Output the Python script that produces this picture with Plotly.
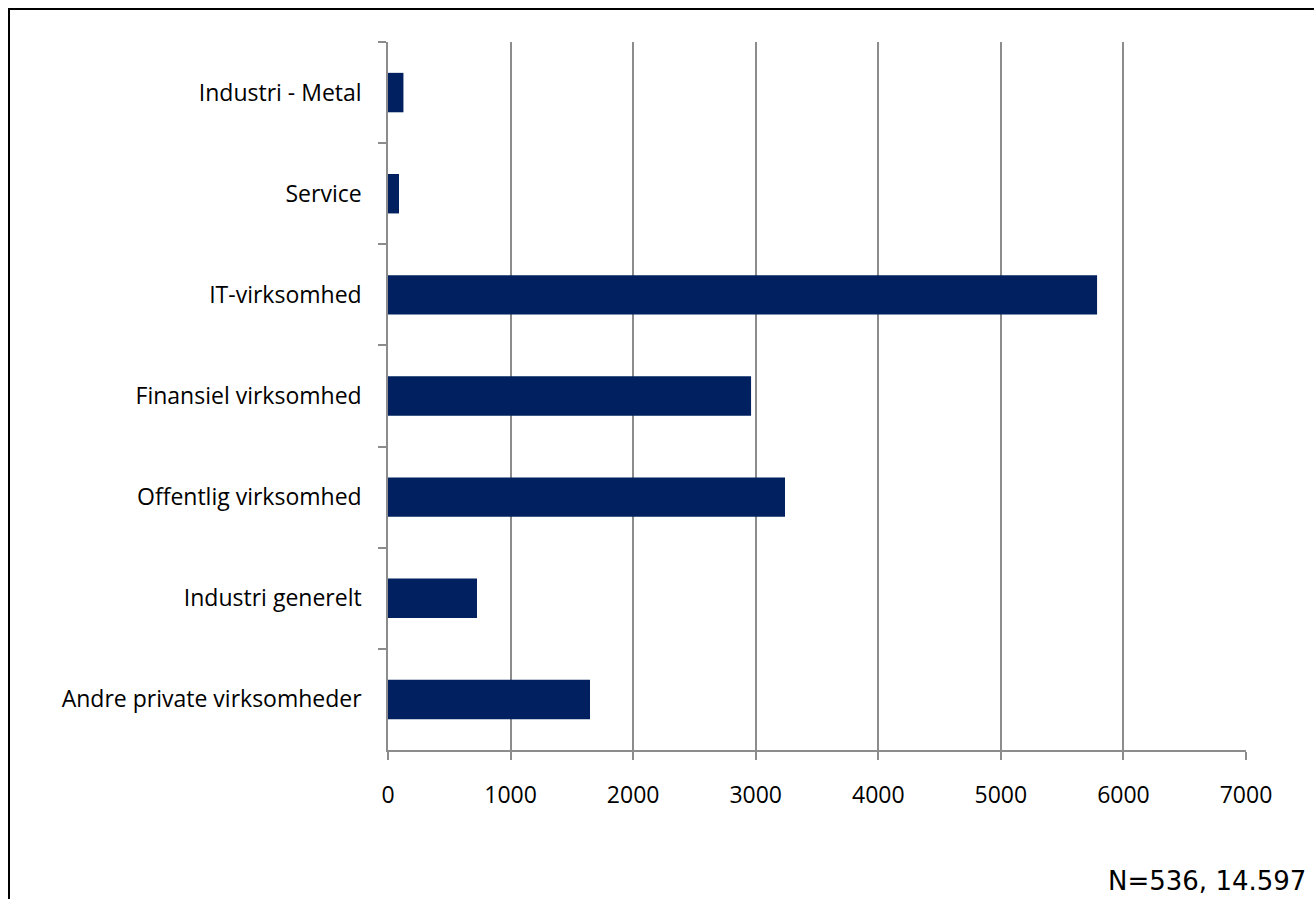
import plotly.graph_objects as go

# Sector breakdown, listed top to bottom as drawn
sectors = [
    "Industri - Metal",
    "Service",
    "IT-virksomhed",
    "Finansiel virksomhed",
    "Offentlig virksomhed",
    "Industri generelt",
    "Andre private virksomheder",
]
values = [126, 90, 5785, 2962, 3239, 726, 1648]
x_ticks = [0, 1000, 2000, 3000, 4000, 5000, 6000, 7000]
note = "N=536, 14.597"

W, H = 1314, 899
ml, mr, mt, mb = 388, 68, 42, 149
pw, ph = W - ml - mr, H - mt - mb

bar_color = "#002060"
grid_color = "#8c8c8c"

fig = go.Figure(
    go.Bar(
        x=values,
        y=sectors,
        orientation="h",
        marker=dict(color=bar_color, line=dict(width=0)),
        hoverinfo="x+y",
    )
)

fig.update_layout(
    width=W,
    height=H,
    margin=dict(l=ml, r=mr, t=mt, b=mb, pad=0),
    paper_bgcolor="white",
    plot_bgcolor="white",
    bargap=0.61,
    showlegend=False,
    font=dict(family="Open Sans, Noto Sans, sans-serif", color="#000000"),
)

fig.update_xaxes(
    range=[0, 7000],
    tickvals=x_ticks,
    ticktext=[str(v) for v in x_ticks],
    showgrid=True,
    gridcolor=grid_color,
    gridwidth=1.5,
    zeroline=False,
    showline=True,
    linecolor=grid_color,
    linewidth=1.5,
    ticks="outside",
    ticklen=8,
    tickwidth=1.5,
    tickcolor=grid_color,
    ticklabelstandoff=16,
    tickfont=dict(size=23, family="Open Sans, sans-serif"),
)

fig.update_yaxes(
    type="category",
    categoryorder="array",
    categoryarray=sectors,
    autorange="reversed",
    tickson="boundaries",
    showgrid=False,
    showline=True,
    linecolor=grid_color,
    linewidth=1.5,
    ticks="outside",
    ticklen=8,
    tickwidth=1.5,
    tickcolor=grid_color,
    ticklabelstandoff=20,
    tickfont=dict(size=23, family="Open Sans, sans-serif"),
)

# Outer frame of the chart object (runs off the right and bottom edges)
fig.add_shape(
    type="rect",
    xref="paper",
    yref="paper",
    x0=(9 - ml) / pw,
    x1=(W + 20 - ml) / pw,
    y0=-(H + 20 - mt - ph) / ph,
    y1=1 + (mt - 9) / ph,
    line=dict(color="black", width=2),
    fillcolor="rgba(0,0,0,0)",
    layer="above",
)

fig.add_annotation(
    text=note,
    xref="paper",
    yref="paper",
    x=(1308 - ml) / pw,
    y=-(898 - mt - ph) / ph,
    xanchor="right",
    yanchor="bottom",
    showarrow=False,
    font=dict(family="DejaVu Sans, Verdana, sans-serif", size=26, color="#000000"),
)

fig.write_html("out.html")
